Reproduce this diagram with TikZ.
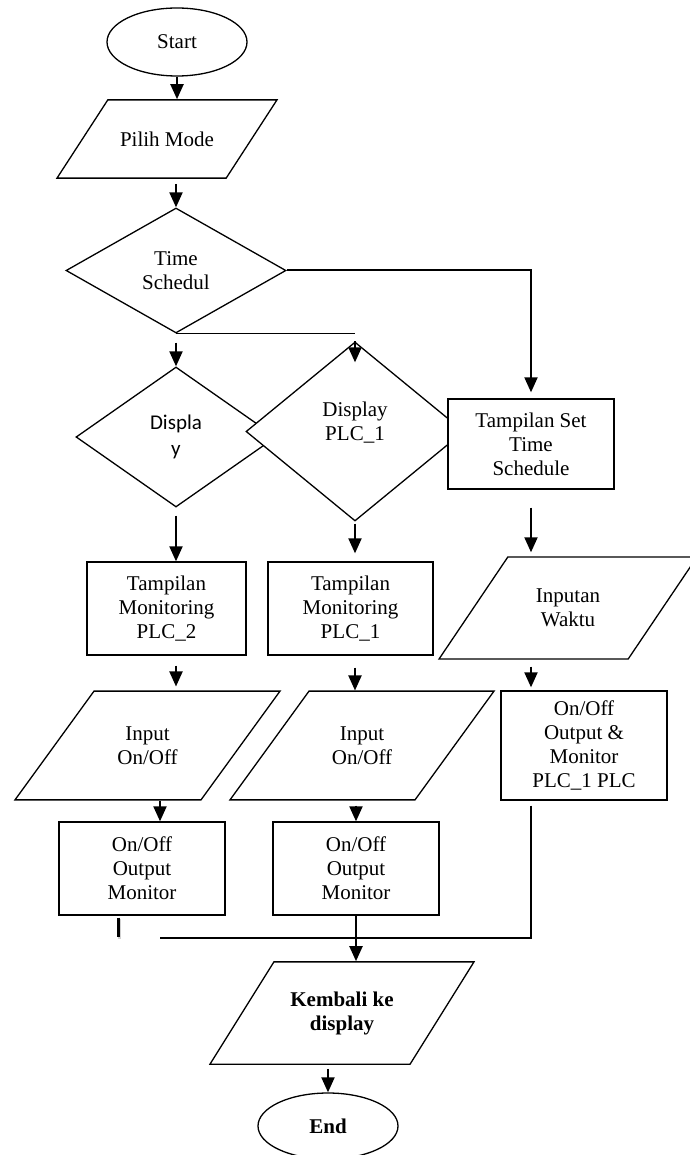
\documentclass[tikz,border=0pt]{standalone}
\usepackage{fontspec}
\setmainfont{Liberation Serif}
\newfontfamily\calibrifont{Carlito}
\usetikzlibrary{shapes,arrows.meta,positioning}

\begin{document}
\begin{tikzpicture}[x=1pt,y=-1pt]
	\tikzstyle{Base}     = [draw, line width=1.3pt, fill=white, inner sep=0pt, align=center, font=\fontsize{21}{24}\selectfont]
	\tikzstyle{Term}     = [Base, ellipse, minimum width=140pt, minimum height=68pt]
	\tikzstyle{Proc}     = [Base, rectangle, minimum width=166pt, minimum height=93pt]
	\tikzstyle{IO}       = [Base, trapezium, trapezium left angle=56, trapezium right angle=124, trapezium stretches body]
	\tikzstyle{Decision} = [Base, diamond]
	\tikzstyle{Flow}     = [line width=2pt, -{Triangle[length=15pt,width=13pt]}]
	\tikzstyle{Line}     = [line width=1.3pt]

	\useasboundingbox (0,0) rectangle (689,1155);

	% top
	\node (start) at (177,42) [Term] {Start};
	\node (pilih) at (167,139) [IO, trapezium left angle=57, trapezium right angle=123, minimum width=220pt, inner ysep=31.75pt] {Pilih Mode};
	\node (ts) at (176,270.5) [Decision, minimum width=220pt, minimum height=125pt, aspect=1.76] {Time\\Schedul};

	% choices
	\node (dis2) at (176,437) [Decision, minimum width=200pt, minimum height=140pt, aspect=1.43, font=\calibrifont\fontsize{21}{26}\selectfont] {Displa\\y};
	\node (dis1) at (355,431.5) [Decision, minimum width=218pt, minimum height=179pt] {};
	\node (dis1txt) at (355,423) [align=center, font=\fontsize{21}{24}\selectfont] {Display\\PLC\_1};
	\node (tset) at (531,444) [Proc, minimum height=90pt] {Tampilan Set\\Time\\Schedule};

	% columns
	\node (tm2) at (166.5,608.5) [Proc, minimum width=159pt] {Tampilan\\Monitoring\\PLC\_2};
	\node (tm1) at (350.5,608.5) [Proc, minimum width=165pt] {Tampilan\\Monitoring\\PLC\_1};
	\node (inw) at (568,608) [IO, minimum width=258pt, inner ysep=32pt] {Inputan\\Waktu};

	\node (in2) at (147.5,745.5) [IO, trapezium left angle=54, trapezium right angle=126, minimum width=265pt, inner ysep=35.4pt] {Input\\On/Off};
	\node (in1) at (362,745.5) [IO, trapezium left angle=54, trapezium right angle=126, minimum width=264pt, inner ysep=35.4pt] {Input\\On/Off};
	\node (oom) at (584,745.5) [Proc, minimum height=109pt] {On/Off\\Output \&\\Monitor\\PLC\_1 PLC};

	\node (oo2) at (142,868.5) [Proc] {On/Off\\Output\\Monitor};
	\node (oo1) at (356,868.5) [Proc] {On/Off\\Output\\Monitor};

	% bottom
	\node (kem) at (342,1013) [IO, trapezium left angle=58, trapezium right angle=122, minimum width=264pt, inner ysep=29.6pt, font=\fontsize{21}{24}\selectfont\bfseries] {Kembali ke\\display};
	\node (end) at (328,1126) [Term, minimum height=66pt, font=\fontsize{21}{24}\selectfont\bfseries] {End};

	\coordinate (merge) at (160,938);
	\coordinate (stub) at (118,937);

	\draw [Flow] (start.south) -- (start.south |- pilih.north);
	\draw [Flow, shorten <=5pt] (pilih.south -| ts.north) -- (ts.north);
	\draw [Flow, shorten >=6pt] (ts.east) -| (tset.north);
	\draw [Line] (ts.south) -- (ts.south -| dis1.north);
	\draw [Flow, shorten <=9pt] (ts.south) -- (dis2.north);
	\draw [Flow] (dis1.north) -- ([yshift=-21pt]dis1.north);

	\draw [Flow, shorten <=8pt] (dis2.south) -- (dis2.south |- tm2.north);
	\draw [Flow, shorten <=2pt, shorten >=8pt] (dis1.south) -- (dis1.south |- tm1.north);
	\draw [Flow, shorten <=18pt, shorten >=4pt] (tset.south) -- (tset.south |- inw.north);

	\draw [Flow, shorten <=10pt, shorten >=4pt] (tm2.south -| dis2.south) -- (in2.north -| dis2.south);
	\draw [Flow, shorten <=12pt] (tm1.south -| dis1.south) -- (in1.north -| dis1.south);
	\draw [Flow, shorten <=7pt, shorten >=3pt] (inw.south -| tset.south) -- (oom.north -| tset.south);

	\draw [Flow] ([xshift=12.5pt]in2.south) -- ([xshift=12.5pt]in2.south |- oo2.north);
	\draw [Flow, shorten <=5pt] (in1.south -| oo1.north) -- (oo1.north);

	\draw [Line, shorten <=5pt] (oom.south -| tset.south) |- (merge);
	\draw [gray!35, line width=3pt] ([shift={(1.5pt,-3pt)}]oo2.south -| stub) -- ([shift={(1.5pt,-1.5pt)}]stub);
	\draw [line width=3pt] ([yshift=-2pt]oo2.south -| stub) -- (stub);
	\draw [Flow] (oo1.south) -- (oo1.south |- kem.north);
	\draw [Flow, shorten <=4pt] (kem.south -| end.north) -- (end.north);
\end{tikzpicture}
\end{document}
